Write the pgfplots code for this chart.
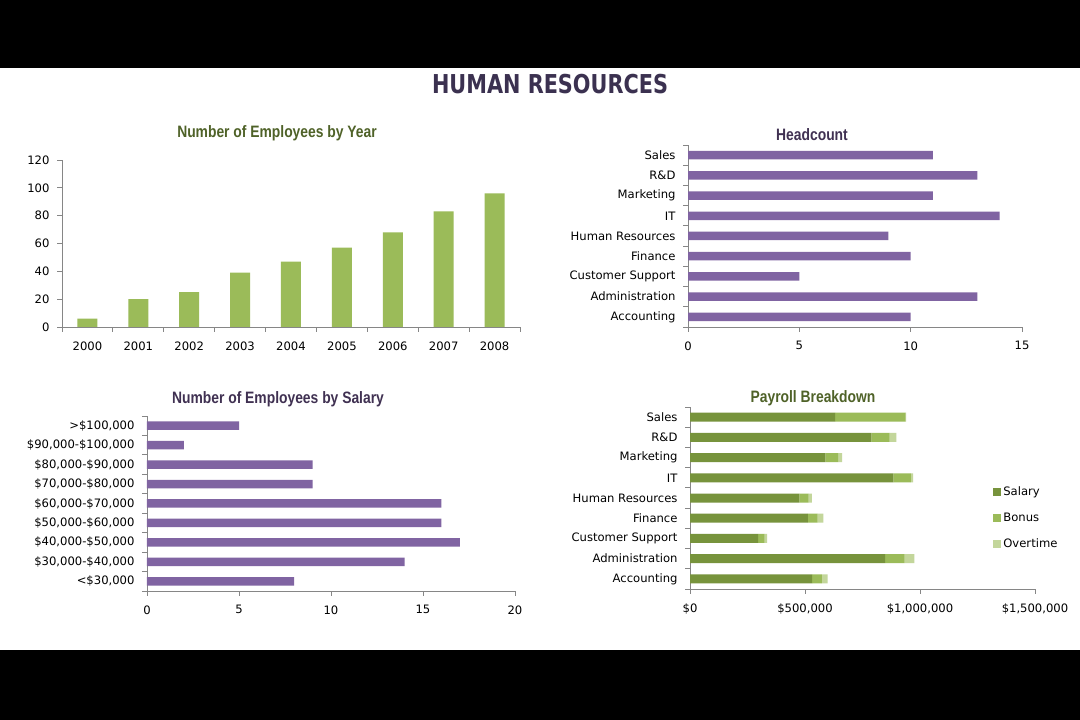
\documentclass[border=0pt]{standalone}
\usepackage{pgfplots}
\pgfplotsset{compat=1.18}
\usepackage{fontspec}
\setmainfont{DejaVu Sans}
\newfontfamily\titlefont[FakeStretch=0.84]{Liberation Sans Bold}
\newfontfamily\mainttlfont[FakeStretch=0.8]{DejaVu Sans Bold}
\definecolor{barpurple}{HTML}{8064A2}
\definecolor{bargreen}{HTML}{9BBB59}
\definecolor{salarygreen}{HTML}{77933C}
\definecolor{overtimegreen}{HTML}{C3D69B}
\definecolor{ttlgreen}{HTML}{4F6228}
\definecolor{ttlpurple}{HTML}{403152}
\definecolor{maintitle}{HTML}{3B3150}
\definecolor{axisgray}{HTML}{868686}
\pgfplotsset{
  hrstyle/.style={
    scale only axis,
    anchor=south west,
    axis x line*=bottom,
    axis y line*=left,
    axis line style={axisgray,-,line width=0.8pt},
    tick style={axisgray,line width=0.8pt},
    tick align=outside,
    major tick length=5pt,
    minor tick length=5pt,
    ticklabel style={font=\fontsize{11.6}{13}\selectfont, text=black},
    xticklabel style={yshift=-6pt},
    yticklabel style={xshift=-4pt},
    /pgf/number format/assume math mode=true,
  },
}
\begin{document}
\begin{tikzpicture}
\useasboundingbox (0pt,0pt) rectangle (1080pt,720pt);
\fill[black] (0pt,0pt) rectangle (1080pt,720pt);
\fill[white] (0pt,70pt) rectangle (1080pt,652pt);
\node[font=\mainttlfont\fontsize{26}{30}\selectfont, text=maintitle] at (550pt,636pt) {HUMAN RESOURCES};

% Chart 1: employees by year
\node[font=\titlefont\fontsize{16.5}{18}\selectfont, text=ttlgreen] at (277pt,587pt) {Number of Employees by Year};
\begin{axis}[hrstyle,
  at={(62pt,393pt)}, width=458pt, height=167pt,
  xmin=-0.5, xmax=8.5, ymin=0, ymax=120,
  ytick={0,20,...,120},
  xtick={0,...,8},
  xticklabels={2000,2001,2002,2003,2004,2005,2006,2007,2008},
  major x tick style={draw=none},
  minor xtick={-0.5,0.5,...,8.5},
  ybar, bar width=20pt,
]
\addplot[fill=bargreen, draw=none] coordinates {(0,6)(1,20)(2,25)(3,39)(4,47)(5,57)(6,68)(7,83)(8,96)};
\end{axis}

% Chart 2: headcount
\node[font=\titlefont\fontsize{16.5}{18}\selectfont, text=ttlpurple] at (812pt,585pt) {Headcount};
\begin{axis}[hrstyle,
  at={(688pt,393pt)}, width=334pt, height=182pt,
  xmin=0, xmax=15, xtick={0,5,10,15},
  ymin=-0.5, ymax=8.5,
  ytick={0,...,8},
  yticklabels={Accounting,Administration,Customer Support,Finance,Human Resources,IT,Marketing,R\&D,Sales},
  major y tick style={draw=none},
  minor ytick={-0.5,0.5,...,8.5},
  xbar, bar width=8.5pt,
]
\addplot[fill=barpurple, draw=none] coordinates {(10,0)(13,1)(5,2)(10,3)(9,4)(14,5)(11,6)(13,7)(11,8)};
\end{axis}

% Chart 3: employees by salary
\node[font=\titlefont\fontsize{16.5}{18}\selectfont, text=ttlpurple] at (278pt,321pt) {Number of Employees by Salary};
\begin{axis}[hrstyle,
  at={(147pt,129pt)}, width=368pt, height=175pt,
  xmin=0, xmax=20, xtick={0,5,10,15,20},
  ymin=-0.5, ymax=8.5,
  ytick={0,...,8},
  yticklabels={{<\$30,000},{\$30,000-\$40,000},{\$40,000-\$50,000},{\$50,000-\$60,000},{\$60,000-\$70,000},{\$70,000-\$80,000},{\$80,000-\$90,000},{\$90,000-\$100,000},{>\$100,000}},
  major y tick style={draw=none},
  minor ytick={-0.5,0.5,...,8.5},
  xbar, bar width=8.5pt,
]
\addplot[fill=barpurple, draw=none] coordinates {(8,0)(14,1)(17,2)(16,3)(16,4)(9,5)(9,6)(2,7)(5,8)};
\end{axis}

% Chart 4: payroll breakdown
\node[font=\titlefont\fontsize{16.5}{18}\selectfont, text=ttlgreen] at (813pt,322pt) {Payroll Breakdown};
\begin{axis}[hrstyle,
  at={(690pt,131pt)}, width=345pt, height=182pt,
  xmin=0, xmax=1500000,
  xtick={0,500000,1000000,1500000},
  xticklabels={{\$0},{\$500,000},{\$1,000,000},{\$1,500,000}},
  scaled x ticks=false,
  ymin=-0.5, ymax=8.5,
  ytick={0,...,8},
  yticklabels={Accounting,Administration,Customer Support,Finance,Human Resources,IT,Marketing,R\&D,Sales},
  major y tick style={draw=none},
  minor ytick={-0.5,0.5,...,8.5},
  xbar stacked, bar width=9pt,
  legend style={at={(0.87,0.39)}, anchor=west, draw=none, fill=none,
    font=\fontsize{11.6}{13}\selectfont, row sep=12pt},
  legend cell align=left,
  legend image code/.code={\fill[#1] (0pt,-4pt) rectangle (8pt,4pt);},
]
\addplot[fill=salarygreen, draw=none] coordinates {(531000,0)(848000,1)(296000,2)(512000,3)(476000,4)(884000,5)(589000,6)(789000,7)(631000,8)};
\addplot[fill=bargreen, draw=none] coordinates {(42000,0)(85000,1)(28000,2)(43000,3)(40000,4)(76000,5)(55000,6)(79000,7)(306000,8)};
\addplot[fill=overtimegreen, draw=none] coordinates {(25000,0)(42000,1)(11000,2)(25000,3)(14000,4)(10000,5)(17000,6)(29000,7)(3000,8)};
\legend{Salary,Bonus,Overtime}
\end{axis}
\end{tikzpicture}
\end{document}
